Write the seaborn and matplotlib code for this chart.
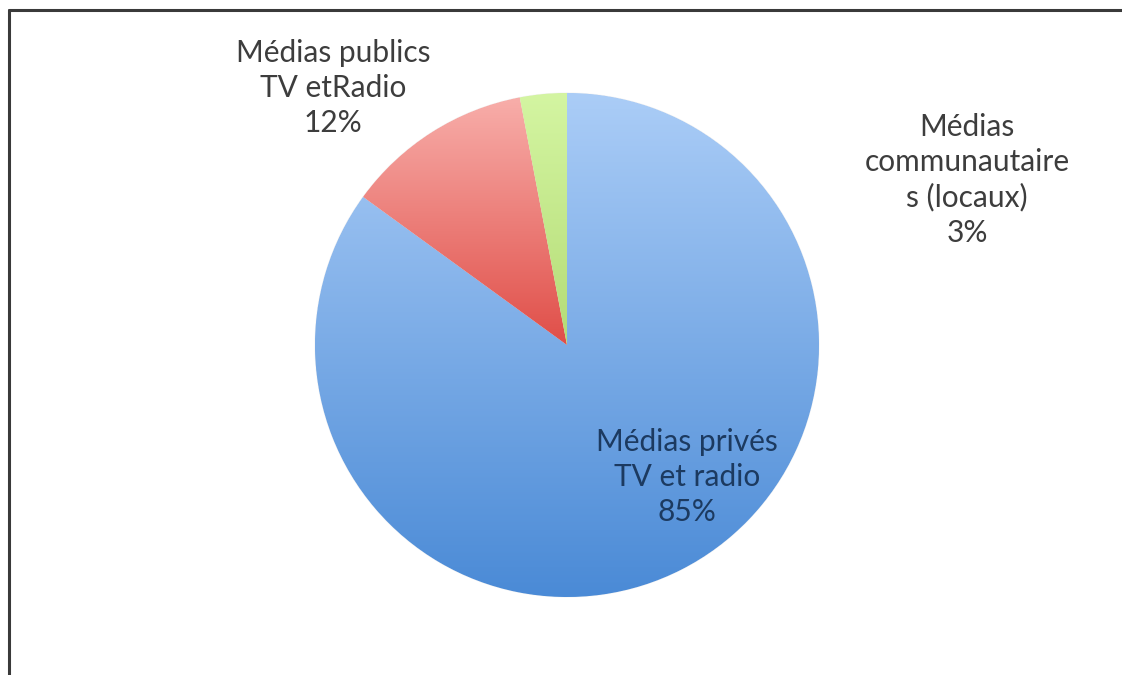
import numpy as np
import matplotlib
matplotlib.use("Agg")
import matplotlib.pyplot as plt
from matplotlib.lines import Line2D
from matplotlib.colors import LinearSegmentedColormap
import seaborn as sns

categories = ["Médias privés\nTV et radio", "Médias publics\nTV etRadio", "Médias\ncommunautaire\ns (locaux)"]
values = [85, 12, 3]
top_colors = ["#abcdf7", "#f8aeaa", "#d4f5a2"]
bottom_colors = ["#4a8ad6", "#e04e48", "#b4dc76"]
text_colors = ["#1c3a60", "#3d3d3d", "#3d3d3d"]

sns.set_theme(style="white")
plt.rcParams['font.family'] = ['Lato', 'DejaVu Sans']

W, H = 1122, 675
fig = plt.figure(figsize=(W / 100, H / 100), dpi=100)
fig.patch.set_facecolor("white")

cx, cy, R = 567, 345, 252
ax = fig.add_axes([(cx - R) / W, (H - cy - R) / H, 2 * R / W, 2 * R / H])
ax.set_xlim(-1, 1)
ax.set_ylim(-1, 1)
ax.set_aspect("equal")
ax.axis("off")

wedges, _ = ax.pie(values, startangle=90, counterclock=False, radius=1,
                   colors=bottom_colors, wedgeprops=dict(linewidth=0.8, edgecolor="#f4f4f4"))

grad = np.linspace(1, 0, 256).reshape(-1, 1)
for w, tc, bc in zip(wedges, top_colors, bottom_colors):
    verts = w.get_path().vertices
    y0, y1 = verts[:, 1].min(), verts[:, 1].max()
    cmap = LinearSegmentedColormap.from_list("g", [bc, tc])
    im = ax.imshow(grad, cmap=cmap, extent=(-1, 1, y0, y1), origin="upper",
                   aspect="auto", zorder=w.get_zorder() + 0.1, vmin=0, vmax=1)
    im.set_clip_path(w)

ax.set_xlim(-1, 1)
ax.set_ylim(-1, 1)

label_pos_px = [(687, 477), (333, 88), (967, 180)]
pct_texts = [f"{v}%" for v in values]
for (px, py), cat, pct, tcol in zip(label_pos_px, categories, pct_texts, text_colors):
    ax.text((px - cx) / R, (cy - py) / R, f"{cat}\n{pct}", ha="center", va="center",
            fontsize=21.5, color=tcol, linespacing=1.3, zorder=10)

# frame lines
fig.add_artist(Line2D([9 / W, 1.0], [1 - 10 / H, 1 - 10 / H], color="#3a3a3a", lw=2.2,
                      transform=fig.transFigure))
fig.add_artist(Line2D([9 / W, 9 / W], [0, 1 - 10 / H], color="#3a3a3a", lw=2.2,
                      transform=fig.transFigure))

fig.savefig("out.png", dpi=100)
